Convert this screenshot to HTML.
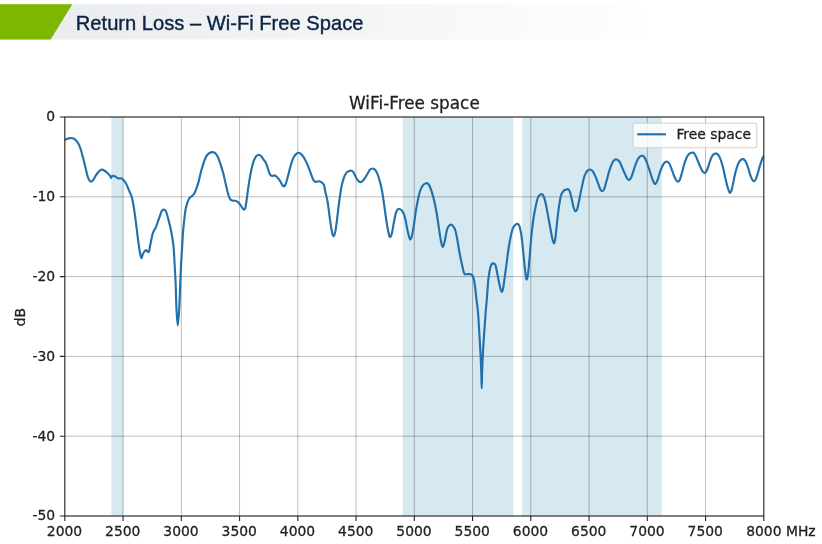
<!DOCTYPE html>
<html lang="en"><head><meta charset="utf-8"><title>Return Loss – Wi-Fi Free Space</title>
<style>
html,body{margin:0;padding:0;background:#fff;}
body{width:822px;height:544px;overflow:hidden;position:relative;}
svg{position:absolute;left:0;top:0;display:block;opacity:0.999;will-change:transform;-webkit-font-smoothing:antialiased;}
.hd{font-family:"Liberation Sans",Arial,sans-serif;font-size:20.3px;fill:#0c2340;stroke:#0c2340;stroke-width:0.38px;}
.t{font-family:"DejaVu Sans","Liberation Sans",sans-serif;font-size:13.89px;fill:#202020;stroke:#202020;stroke-width:0.26px;}
.tt{font-family:"DejaVu Sans","Liberation Sans",sans-serif;font-size:16.85px;fill:#202020;stroke:#202020;stroke-width:0.26px;}
</style></head><body>
<svg width="822" height="544" viewBox="0 0 822 544">
<defs><linearGradient id="hg" x1="0" y1="0" x2="1" y2="0"><stop offset="0" stop-color="#e8ebef"/><stop offset="0.3" stop-color="#eef0f3"/><stop offset="0.55" stop-color="#f4f5f7"/><stop offset="0.75" stop-color="#f9f9fa"/><stop offset="0.95" stop-color="#fdfdfd"/><stop offset="1" stop-color="#ffffff"/></linearGradient><clipPath id="cp"><rect x="64.82" y="117.00" width="698.98" height="399.00"/></clipPath></defs>
<rect x="0" y="4.3" width="648" height="35.2" fill="url(#hg)"/>
<polygon points="0,4.3 72.3,4.3 50.6,39.4 0,39.4" fill="#7db700"/>
<text class="hd" x="75.8" y="29.6" textLength="287.6" lengthAdjust="spacingAndGlyphs">Return Loss – Wi-Fi Free Space</text>
<rect x="111.42" y="117.00" width="11.65" height="399.00" fill="#d6e9f1"/>
<rect x="402.66" y="117.00" width="110.67" height="399.00" fill="#d6e9f1"/>
<rect x="522.07" y="117.00" width="139.80" height="399.00" fill="#d6e9f1"/>
<path d="M123.07,117.00V516.00M181.32,117.00V516.00M239.56,117.00V516.00M297.81,117.00V516.00M356.06,117.00V516.00M414.31,117.00V516.00M472.56,117.00V516.00M530.81,117.00V516.00M589.06,117.00V516.00M647.30,117.00V516.00M705.55,117.00V516.00M64.82,196.80H763.80M64.82,276.60H763.80M64.82,356.40H763.80M64.82,436.20H763.80" stroke="#000000" stroke-opacity="0.3" stroke-width="0.9" fill="none"/>
<path d="M64.82,139.80C65.44,139.57 67.41,138.70 68.55,138.40C69.69,138.10 70.58,137.85 71.65,138.00C72.72,138.15 73.88,138.47 74.95,139.30C76.02,140.13 77.13,141.47 78.05,143.00C78.97,144.53 79.58,145.90 80.45,148.50C81.32,151.10 82.33,155.08 83.25,158.60C84.17,162.12 85.13,166.38 85.95,169.60C86.77,172.82 87.38,175.90 88.15,177.90C88.92,179.90 89.75,181.20 90.55,181.60C91.35,182.00 92.03,181.38 92.95,180.30C93.87,179.22 95.07,176.57 96.05,175.10C97.03,173.63 97.92,172.42 98.85,171.50C99.78,170.58 100.73,169.77 101.65,169.60C102.57,169.43 103.35,169.88 104.35,170.50C105.35,171.12 106.67,172.37 107.65,173.30C108.63,174.23 109.70,175.33 110.25,176.10C110.80,176.87 110.62,177.92 110.95,177.90C111.28,177.88 111.52,176.22 112.25,176.00C112.98,175.78 114.37,176.20 115.35,176.60C116.33,177.00 117.22,178.12 118.15,178.40C119.08,178.68 120.03,177.98 120.95,178.30C121.87,178.62 122.73,179.30 123.65,180.30C124.57,181.30 125.53,182.55 126.45,184.30C127.37,186.05 128.30,188.78 129.15,190.80C130.00,192.82 130.78,193.75 131.55,196.40C132.32,199.05 133.02,202.28 133.75,206.70C134.48,211.12 135.22,217.27 135.95,222.90C136.68,228.53 137.45,235.37 138.15,240.50C138.85,245.63 139.60,250.77 140.15,253.70C140.70,256.63 141.00,258.05 141.45,258.10C141.90,258.15 142.28,255.17 142.85,254.00C143.42,252.83 144.28,251.75 144.85,251.10C145.42,250.45 145.60,249.95 146.25,250.10C146.90,250.25 148.08,252.87 148.75,252.00C149.42,251.13 149.57,248.05 150.25,244.90C150.93,241.75 151.92,236.03 152.85,233.10C153.78,230.17 154.87,229.62 155.85,227.30C156.83,224.98 157.77,221.90 158.75,219.20C159.73,216.50 160.93,212.70 161.75,211.10C162.57,209.50 162.97,209.60 163.65,209.60C164.33,209.60 165.07,209.50 165.85,211.10C166.63,212.70 167.45,215.77 168.35,219.20C169.25,222.63 170.45,227.67 171.25,231.70C172.05,235.73 172.72,240.27 173.15,243.40C173.58,246.53 173.58,246.62 173.85,250.50C174.12,254.38 174.45,261.25 174.75,266.70C175.05,272.15 175.37,276.28 175.65,283.20C175.93,290.12 176.10,301.15 176.45,308.20C176.80,315.25 177.28,325.50 177.75,325.50C178.22,325.50 178.83,315.25 179.25,308.20C179.67,301.15 179.97,290.12 180.25,283.20C180.53,276.28 180.67,272.15 180.95,266.70C181.23,261.25 181.62,256.10 181.95,250.50C182.28,244.90 182.57,238.20 182.95,233.10C183.33,228.00 183.82,223.82 184.25,219.90C184.68,215.98 185.02,212.53 185.55,209.60C186.08,206.67 186.77,204.25 187.45,202.30C188.13,200.35 188.98,198.87 189.65,197.90C190.32,196.93 190.85,197.00 191.45,196.50C192.05,196.00 192.67,195.60 193.25,194.90C193.83,194.20 194.38,193.50 194.95,192.30C195.52,191.10 196.05,189.43 196.65,187.70C197.25,185.97 197.78,184.72 198.55,181.90C199.32,179.08 200.33,174.18 201.25,170.80C202.17,167.42 203.13,164.13 204.05,161.60C204.97,159.07 205.83,157.03 206.75,155.60C207.67,154.17 208.62,153.58 209.55,153.00C210.48,152.42 211.43,152.10 212.35,152.10C213.27,152.10 214.13,152.18 215.05,153.00C215.97,153.82 216.93,155.10 217.85,157.00C218.77,158.90 219.63,161.63 220.55,164.40C221.47,167.17 222.43,170.08 223.35,173.60C224.27,177.12 225.22,181.98 226.05,185.50C226.88,189.02 227.63,192.40 228.35,194.70C229.07,197.00 229.65,198.32 230.35,199.30C231.05,200.28 231.73,200.35 232.55,200.60C233.37,200.85 234.33,200.55 235.25,200.80C236.17,201.05 237.22,201.43 238.05,202.10C238.88,202.77 239.55,203.85 240.25,204.80C240.95,205.75 241.72,207.07 242.25,207.80C242.78,208.53 243.07,208.93 243.45,209.20C243.83,209.47 244.20,209.75 244.55,209.40C244.90,209.05 245.18,208.83 245.55,207.10C245.92,205.37 246.22,202.75 246.75,199.00C247.28,195.25 248.05,189.13 248.75,184.60C249.45,180.07 250.18,175.53 250.95,171.80C251.72,168.07 252.53,164.72 253.35,162.20C254.17,159.68 254.97,157.93 255.85,156.70C256.73,155.47 257.78,154.90 258.65,154.80C259.52,154.70 260.20,155.27 261.05,156.10C261.90,156.93 262.90,158.57 263.75,159.80C264.60,161.03 265.43,161.97 266.15,163.50C266.87,165.03 267.43,167.23 268.05,169.00C268.67,170.77 269.18,172.93 269.85,174.10C270.52,175.27 271.28,175.78 272.05,176.00C272.82,176.22 273.68,175.28 274.45,175.40C275.22,175.52 275.88,176.02 276.65,176.70C277.42,177.38 278.28,178.43 279.05,179.50C279.82,180.57 280.58,182.03 281.25,183.10C281.92,184.17 282.50,185.40 283.05,185.90C283.60,186.40 284.08,186.47 284.55,186.10C285.02,185.73 285.33,185.17 285.85,183.70C286.37,182.23 286.95,179.90 287.65,177.30C288.35,174.70 289.28,170.87 290.05,168.10C290.82,165.33 291.42,162.85 292.25,160.70C293.08,158.55 294.07,156.52 295.05,155.20C296.03,153.88 297.23,153.05 298.15,152.80C299.07,152.55 299.70,153.05 300.55,153.70C301.40,154.35 302.33,155.38 303.25,156.70C304.17,158.02 305.12,159.70 306.05,161.60C306.98,163.50 307.93,165.80 308.85,168.10C309.77,170.40 310.73,173.32 311.55,175.40C312.37,177.48 312.98,179.52 313.75,180.60C314.52,181.68 315.28,181.78 316.15,181.90C317.02,182.02 318.03,181.22 318.95,181.30C319.87,181.38 320.80,181.75 321.65,182.40C322.50,183.05 323.43,183.62 324.05,185.20C324.67,186.78 324.75,189.10 325.35,191.90C325.95,194.70 326.90,197.57 327.65,202.00C328.40,206.43 329.15,213.60 329.85,218.50C330.55,223.40 331.25,228.40 331.85,231.40C332.45,234.40 332.87,236.50 333.45,236.50C334.03,236.50 334.73,234.40 335.35,231.40C335.97,228.40 336.52,223.40 337.15,218.50C337.78,213.60 338.45,207.20 339.15,202.00C339.85,196.80 340.58,191.28 341.35,187.30C342.12,183.32 342.92,180.50 343.75,178.10C344.58,175.70 345.45,174.07 346.35,172.90C347.25,171.73 348.28,171.47 349.15,171.10C350.02,170.73 350.85,170.52 351.55,170.70C352.25,170.88 352.68,171.22 353.35,172.20C354.02,173.18 354.78,175.22 355.55,176.60C356.32,177.98 357.15,179.58 357.95,180.50C358.75,181.42 359.53,182.05 360.35,182.10C361.17,182.15 362.03,181.53 362.85,180.80C363.67,180.07 364.45,178.92 365.25,177.70C366.05,176.48 366.88,174.82 367.65,173.50C368.42,172.18 369.02,170.63 369.85,169.80C370.68,168.97 371.78,168.50 372.65,168.50C373.52,168.50 374.22,168.82 375.05,169.80C375.88,170.78 376.83,172.40 377.65,174.40C378.47,176.40 379.25,179.20 379.95,181.80C380.65,184.40 381.23,186.78 381.85,190.00C382.47,193.22 383.03,196.97 383.65,201.10C384.27,205.23 384.93,210.52 385.55,214.80C386.17,219.08 386.75,223.42 387.35,226.80C387.95,230.18 388.63,233.42 389.15,235.10C389.67,236.78 389.98,237.22 390.45,236.90C390.92,236.58 391.40,235.50 391.95,233.20C392.50,230.90 393.13,226.32 393.75,223.10C394.37,219.88 395.03,216.13 395.65,213.90C396.27,211.67 396.85,210.52 397.45,209.70C398.05,208.88 398.57,208.92 399.25,209.00C399.93,209.08 400.78,209.38 401.55,210.20C402.32,211.02 403.15,212.05 403.85,213.90C404.55,215.75 405.13,218.53 405.75,221.30C406.37,224.07 406.93,227.75 407.55,230.50C408.17,233.25 408.93,236.33 409.45,237.80C409.97,239.27 410.20,239.75 410.65,239.30C411.10,238.85 411.58,237.65 412.15,235.10C412.72,232.55 413.43,227.98 414.05,224.00C414.67,220.02 415.18,215.33 415.85,211.20C416.52,207.07 417.28,202.73 418.05,199.20C418.82,195.67 419.60,192.35 420.45,190.00C421.30,187.65 422.23,186.23 423.15,185.10C424.07,183.97 425.02,183.30 425.95,183.20C426.88,183.10 427.83,183.22 428.75,184.50C429.67,185.78 430.53,188.13 431.45,190.90C432.37,193.67 433.38,197.42 434.25,201.10C435.12,204.78 435.88,208.57 436.65,213.00C437.42,217.43 438.12,222.95 438.85,227.70C439.58,232.45 440.38,238.28 441.05,241.50C441.72,244.72 442.25,247.00 442.85,247.00C443.45,247.00 443.95,244.42 444.65,241.50C445.35,238.58 446.33,232.10 447.05,229.50C447.77,226.90 448.33,226.72 448.95,225.90C449.57,225.08 450.08,224.60 450.75,224.60C451.42,224.60 452.18,224.92 452.95,225.90C453.72,226.88 454.65,228.37 455.35,230.50C456.05,232.63 456.73,236.67 457.15,238.70C457.57,240.73 457.37,239.90 457.85,242.70C458.33,245.50 459.28,251.52 460.05,255.50C460.82,259.48 461.91,264.12 462.45,266.60C462.99,269.08 463.01,269.28 463.30,270.40C463.59,271.52 463.88,272.62 464.20,273.30C464.52,273.98 464.65,274.37 465.20,274.50C465.75,274.63 466.70,274.17 467.50,274.10C468.30,274.03 469.23,273.95 470.00,274.10C470.77,274.25 471.53,274.42 472.10,275.00C472.67,275.58 473.02,276.43 473.40,277.60C473.78,278.77 474.08,280.15 474.40,282.00C474.72,283.85 474.95,285.77 475.30,288.70C475.65,291.63 476.10,296.15 476.50,299.60C476.90,303.05 477.40,306.68 477.70,309.40C478.00,312.12 478.10,313.12 478.30,315.90C478.50,318.68 478.67,322.10 478.90,326.10C479.13,330.10 479.47,335.93 479.70,339.90C479.93,343.87 480.12,346.57 480.30,349.90C480.48,353.23 480.63,356.07 480.80,359.90C480.97,363.73 481.15,368.15 481.30,372.90C481.45,377.65 481.57,388.40 481.70,388.40C481.83,388.40 481.95,377.65 482.10,372.90C482.25,368.15 482.43,363.73 482.60,359.90C482.77,356.07 482.92,353.23 483.10,349.90C483.28,346.57 483.43,343.87 483.70,339.90C483.97,335.93 484.42,330.10 484.70,326.10C484.98,322.10 485.20,318.68 485.40,315.90C485.60,313.12 485.67,312.12 485.90,309.40C486.13,306.68 486.53,302.85 486.80,299.60C487.07,296.35 487.28,292.83 487.50,289.90C487.72,286.97 487.90,284.20 488.10,282.00C488.30,279.80 488.48,278.38 488.70,276.70C488.92,275.02 489.12,273.48 489.40,271.90C489.68,270.32 490.03,268.48 490.40,267.20C490.77,265.92 491.06,264.83 491.60,264.20C492.14,263.57 492.99,263.22 493.65,263.40C494.31,263.58 494.93,263.55 495.55,265.30C496.17,267.05 496.75,270.93 497.35,273.90C497.95,276.87 498.60,280.50 499.15,283.10C499.70,285.70 500.18,288.05 500.65,289.50C501.12,290.95 501.52,292.10 501.95,291.80C502.38,291.50 502.80,290.07 503.25,287.70C503.70,285.33 504.10,281.58 504.65,277.60C505.20,273.62 505.93,268.40 506.55,263.80C507.17,259.20 507.68,254.43 508.35,250.00C509.02,245.57 509.83,240.72 510.55,237.20C511.27,233.68 511.93,230.90 512.65,228.90C513.37,226.90 514.03,226.03 514.85,225.20C515.67,224.37 516.78,223.75 517.55,223.90C518.32,224.05 518.83,224.35 519.45,226.10C520.07,227.85 520.65,230.42 521.25,234.40C521.85,238.38 522.50,244.80 523.05,250.00C523.60,255.20 524.08,261.30 524.55,265.60C525.02,269.90 525.48,273.50 525.85,275.80C526.22,278.10 526.38,279.72 526.75,279.40C527.12,279.08 527.58,277.42 528.05,273.90C528.52,270.38 529.07,263.87 529.55,258.30C530.03,252.73 530.43,246.13 530.95,240.50C531.47,234.87 532.03,229.33 532.65,224.50C533.27,219.67 533.80,215.92 534.65,211.50C535.50,207.08 536.83,200.80 537.75,198.00C538.67,195.20 539.45,195.32 540.15,194.70C540.85,194.08 541.35,194.00 541.95,194.30C542.55,194.60 543.08,194.82 543.75,196.50C544.42,198.18 545.22,201.08 545.95,204.40C546.68,207.72 547.38,212.25 548.15,216.40C548.92,220.55 549.90,225.78 550.55,229.30C551.20,232.82 551.52,235.18 552.05,237.50C552.58,239.82 553.22,242.95 553.75,243.20C554.28,243.45 554.70,242.45 555.25,239.00C555.80,235.55 556.45,227.75 557.05,222.50C557.65,217.25 558.18,212.05 558.85,207.50C559.52,202.95 560.28,197.95 561.05,195.20C561.82,192.45 562.65,191.92 563.45,191.00C564.25,190.08 565.08,190.00 565.85,189.70C566.62,189.40 567.38,188.88 568.05,189.20C568.72,189.52 569.23,189.98 569.85,191.60C570.47,193.22 571.13,196.30 571.75,198.90C572.37,201.50 572.95,205.15 573.55,207.20C574.15,209.25 574.73,210.90 575.35,211.20C575.97,211.50 576.63,210.73 577.25,209.00C577.87,207.27 578.28,204.47 579.05,200.80C579.82,197.13 580.93,191.15 581.85,187.00C582.77,182.85 583.63,178.60 584.55,175.90C585.47,173.20 586.42,171.87 587.35,170.80C588.28,169.73 589.23,169.42 590.15,169.50C591.07,169.58 591.93,170.07 592.85,171.30C593.77,172.53 594.73,174.75 595.65,176.90C596.57,179.05 597.53,182.07 598.35,184.20C599.17,186.33 599.87,188.53 600.55,189.70C601.23,190.87 601.83,191.35 602.45,191.20C603.07,191.05 603.55,190.58 604.25,188.80C604.95,187.02 605.78,183.57 606.65,180.50C607.52,177.43 608.53,173.30 609.45,170.40C610.37,167.50 611.30,164.85 612.15,163.10C613.00,161.35 613.78,160.52 614.55,159.90C615.32,159.28 615.92,159.12 616.75,159.40C617.58,159.68 618.63,160.22 619.55,161.60C620.47,162.98 621.33,165.62 622.25,167.70C623.17,169.78 624.22,172.27 625.05,174.10C625.88,175.93 626.58,177.72 627.25,178.70C627.92,179.68 628.42,180.15 629.05,180.00C629.68,179.85 630.33,179.25 631.05,177.80C631.77,176.35 632.52,173.75 633.35,171.30C634.18,168.85 635.13,165.38 636.05,163.10C636.97,160.82 637.93,158.83 638.85,157.60C639.77,156.37 640.63,155.77 641.55,155.70C642.47,155.63 643.43,155.97 644.35,157.20C645.27,158.43 646.13,160.75 647.05,163.10C647.97,165.45 648.98,168.70 649.85,171.30C650.72,173.90 651.55,176.77 652.25,178.70C652.95,180.63 653.50,182.05 654.05,182.90C654.60,183.75 655.00,184.17 655.55,183.80C656.10,183.43 656.65,182.52 657.35,180.70C658.05,178.88 658.90,175.35 659.75,172.90C660.60,170.45 661.62,167.73 662.45,166.00C663.28,164.27 664.00,163.25 664.75,162.50C665.50,161.75 666.22,161.37 666.95,161.50C667.68,161.63 668.38,162.08 669.15,163.30C669.92,164.52 670.72,166.65 671.55,168.80C672.38,170.95 673.38,174.30 674.15,176.20C674.92,178.10 675.52,179.28 676.15,180.20C676.78,181.12 677.33,181.77 677.95,181.70C678.57,181.63 679.17,181.33 679.85,179.80C680.53,178.27 681.23,175.40 682.05,172.50C682.87,169.60 683.83,165.17 684.75,162.40C685.67,159.63 686.63,157.43 687.55,155.90C688.47,154.37 689.33,153.75 690.25,153.20C691.17,152.65 692.22,152.30 693.05,152.60C693.88,152.90 694.48,153.68 695.25,155.00C696.02,156.32 696.80,158.50 697.65,160.50C698.50,162.50 699.50,165.15 700.35,167.00C701.20,168.85 702.03,170.62 702.75,171.60C703.47,172.58 703.97,173.07 704.65,172.90C705.33,172.73 706.12,172.05 706.85,170.60C707.58,169.15 708.28,166.40 709.05,164.20C709.82,162.00 710.65,159.08 711.45,157.40C712.25,155.72 713.03,154.73 713.85,154.10C714.67,153.47 715.53,153.35 716.35,153.60C717.17,153.85 717.98,154.45 718.75,155.60C719.52,156.75 720.18,158.30 720.95,160.50C721.72,162.70 722.58,165.73 723.35,168.80C724.12,171.87 724.83,175.83 725.55,178.90C726.27,181.97 727.03,185.05 727.65,187.20C728.27,189.35 728.80,190.88 729.25,191.80C729.70,192.72 729.95,193.02 730.35,192.70C730.75,192.38 731.13,191.73 731.65,189.90C732.17,188.07 732.78,184.75 733.45,181.70C734.12,178.65 734.88,174.52 735.65,171.60C736.42,168.68 737.25,166.10 738.05,164.20C738.85,162.30 739.62,161.05 740.45,160.20C741.28,159.35 742.22,158.95 743.05,159.10C743.88,159.25 744.65,159.78 745.45,161.10C746.25,162.42 747.08,164.80 747.85,167.00C748.62,169.20 749.32,172.17 750.05,174.30C750.78,176.43 751.58,178.67 752.25,179.80C752.92,180.93 753.43,181.25 754.05,181.10C754.67,180.95 755.33,180.18 755.95,178.90C756.57,177.62 757.05,175.70 757.75,173.40C758.45,171.10 759.38,167.55 760.15,165.10C760.92,162.65 761.74,160.28 762.35,158.70C762.96,157.12 763.56,156.12 763.80,155.60" stroke="#2271aa" stroke-width="2.15" fill="none" stroke-linejoin="round" stroke-linecap="butt" clip-path="url(#cp)"/>
<path d="M64.82,516.00v5M123.07,516.00v5M181.32,516.00v5M239.56,516.00v5M297.81,516.00v5M356.06,516.00v5M414.31,516.00v5M472.56,516.00v5M530.81,516.00v5M589.06,516.00v5M647.30,516.00v5M705.55,516.00v5M763.80,516.00v5M64.82,117.00h-5M64.82,196.80h-5M64.82,276.60h-5M64.82,356.40h-5M64.82,436.20h-5M64.82,516.00h-5" stroke="#262626" stroke-width="1.1" fill="none"/>
<rect x="64.82" y="117.00" width="698.98" height="399.00" fill="none" stroke="#262626" stroke-width="1.15"/>
<text class="t" x="64.52" y="535.8" text-anchor="middle">2000</text>
<text class="t" x="122.77" y="535.8" text-anchor="middle">2500</text>
<text class="t" x="181.02" y="535.8" text-anchor="middle">3000</text>
<text class="t" x="239.26" y="535.8" text-anchor="middle">3500</text>
<text class="t" x="297.51" y="535.8" text-anchor="middle">4000</text>
<text class="t" x="355.76" y="535.8" text-anchor="middle">4500</text>
<text class="t" x="414.01" y="535.8" text-anchor="middle">5000</text>
<text class="t" x="472.26" y="535.8" text-anchor="middle">5500</text>
<text class="t" x="530.51" y="535.8" text-anchor="middle">6000</text>
<text class="t" x="588.76" y="535.8" text-anchor="middle">6500</text>
<text class="t" x="647.00" y="535.8" text-anchor="middle">7000</text>
<text class="t" x="705.25" y="535.8" text-anchor="middle">7500</text>
<text class="t" x="746.20" y="535.8" text-anchor="start">8000 MHz</text>
<text class="t" x="55.2" y="121.40" text-anchor="end">0</text>
<text class="t" x="55.2" y="201.20" text-anchor="end">-10</text>
<text class="t" x="55.2" y="281.00" text-anchor="end">-20</text>
<text class="t" x="55.2" y="360.80" text-anchor="end">-30</text>
<text class="t" x="55.2" y="440.60" text-anchor="end">-40</text>
<text class="t" x="55.2" y="520.40" text-anchor="end">-50</text>
<text class="t" transform="translate(24.8,317.2) rotate(-90)" text-anchor="middle">dB</text>
<text class="tt" x="414.4" y="108.6" text-anchor="middle">WiFi-Free space</text>
<rect x="633" y="123.3" width="123.8" height="24.4" rx="2.5" ry="2.5" fill="#ffffff" fill-opacity="0.8" stroke="#d2d2d2" stroke-width="1.05"/>
<path d="M637.2,134.3H666.0" stroke="#2271aa" stroke-width="2.15" fill="none"/>
<text class="t" x="676.4" y="138.9">Free space</text>
</svg>
</body></html>
